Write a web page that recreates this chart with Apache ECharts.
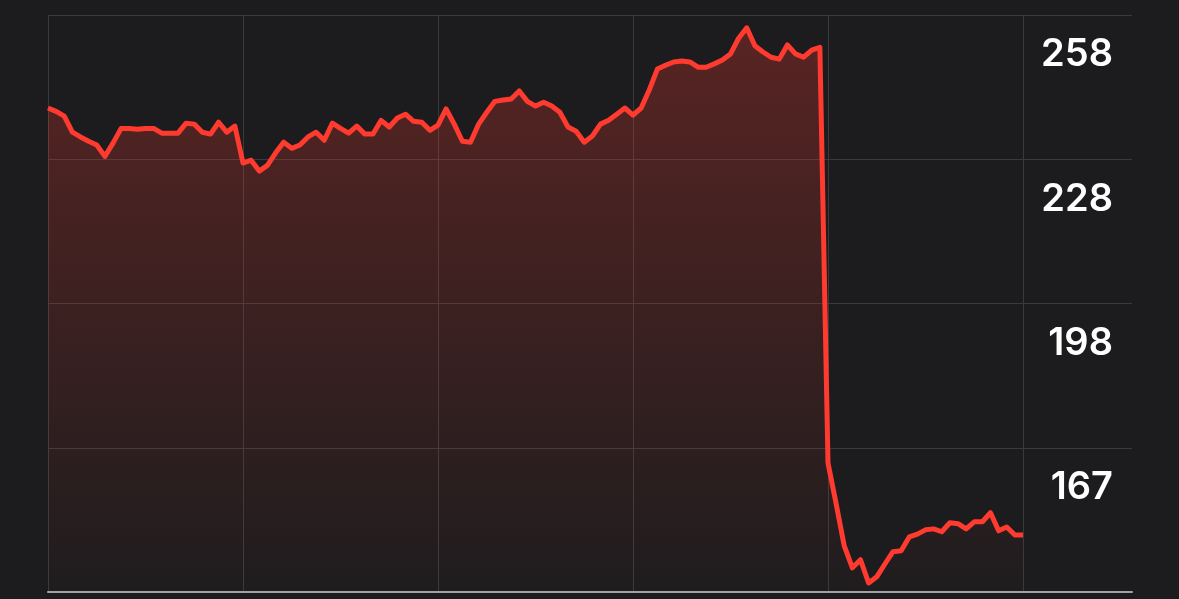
<!DOCTYPE html>
<html>
<head>
<meta charset="utf-8">
<script src="https://cdn.jsdelivr.net/npm/echarts@6/dist/echarts.min.js"></script>
<style>
  html, body { margin: 0; padding: 0; background: #1c1c1e; }
  #chart { width: 1179px; height: 599px; }
</style>
</head>
<body>
<div id="chart"></div>
<script>
// closing prices, one per step
const prices = [
  238.8, 238.1, 237.1, 233.7, 232.7, 231.8, 231.0, 228.6, 231.4, 234.5,
  234.5, 234.3, 234.5, 234.5, 233.5, 233.5, 233.5, 235.6, 235.4, 233.7,
  233.3, 235.8, 233.7, 235.0, 227.2, 227.8, 225.5, 226.7, 229.3, 231.6,
  230.3, 231.0, 232.7, 233.7, 232.0, 235.6, 234.5, 233.5, 235.0, 233.3,
  233.3, 236.2, 234.8, 236.7, 237.5, 236.0, 235.8, 234.1, 235.2, 238.6,
  235.4, 231.8, 231.6, 235.4, 237.9, 240.2, 240.5, 240.7, 242.4, 240.2,
  239.2, 240.0, 239.2, 237.9, 234.8, 233.9, 231.6, 232.9, 235.4, 236.2,
  237.5, 238.8, 237.3, 238.8, 242.6, 247.0, 247.8, 248.5, 248.7, 248.5,
  247.4, 247.4, 248.1, 248.9, 250.2, 253.5, 255.7, 251.9, 250.6, 249.5,
  249.1, 252.1, 250.2, 249.5, 251.0, 251.6, 164.0, 155.4, 146.5, 141.9,
  143.6, 138.7, 140.0, 142.7, 145.3, 145.5, 148.4, 149.0, 149.9, 150.1,
  149.5, 151.4, 151.2, 150.1, 151.6, 151.6, 153.5, 149.7, 150.5, 148.8,
  148.8
];
// y ticks (bottom, then labelled levels)
const yTicks = [136.8, 167.2, 197.6, 228.0, 258.4];
const stepsPerBlock = 24;

const seriesData = prices.map((v, i) => [i, v]);
const lastIdx = prices.length - 1;

const chart = echarts.init(document.getElementById('chart'));
chart.setOption({
  backgroundColor: '#1c1c1e',
  animation: false,
  grid: { left: 48, right: 47, top: 15, bottom: 7, outerBoundsMode: 'none', containLabel: false },
  xAxis: {
    type: 'value',
    min: 0,
    // leave room on the right for the price labels
    max: lastIdx * 1084 / 975,
    interval: stepsPerBlock,
    axisLine: { show: true, onZero: false, lineStyle: { color: '#a1a1a6', width: 2 } },
    axisTick: { show: false },
    axisLabel: { show: false },
    splitLine: { show: true, showMaxLine: false, lineStyle: { color: '#3a3a3c', width: 1 } }
  },
  yAxis: {
    type: 'value',
    position: 'right',
    min: yTicks[0],
    max: yTicks[yTicks.length - 1],
    interval: 30.4,
    axisLine: { show: false },
    axisTick: { show: false },
    splitLine: { show: true, lineStyle: { color: '#3a3a3c', width: 1 } },
    axisLabel: {
      inside: true,
      margin: 19,
      color: '#ffffff',
      fontFamily: 'Inter, Roboto, sans-serif',
      fontWeight: 600,
      fontSize: 38,
      lineHeight: 38,
      verticalAlign: 'top',
      padding: [21, 0, 0, 0],
      formatter: (v) => (v <= yTicks[0] + 0.01 ? '' : String(Math.round(v)))
    }
  },
  series: [{
    type: 'line',
    data: seriesData,
    showSymbol: false,
    smooth: false,
    lineStyle: { color: '#ff3b30', width: 5, join: 'round' },
    itemStyle: { color: '#ff3b30' },
    areaStyle: {
      color: new echarts.graphic.LinearGradient(0, 0, 0, 1, [
        { offset: 0, color: 'rgba(255,59,48,0.38)' },
        { offset: 1, color: 'rgba(255,59,48,0.02)' }
      ])
    }
  }]
});
</script>
</body>
</html>
